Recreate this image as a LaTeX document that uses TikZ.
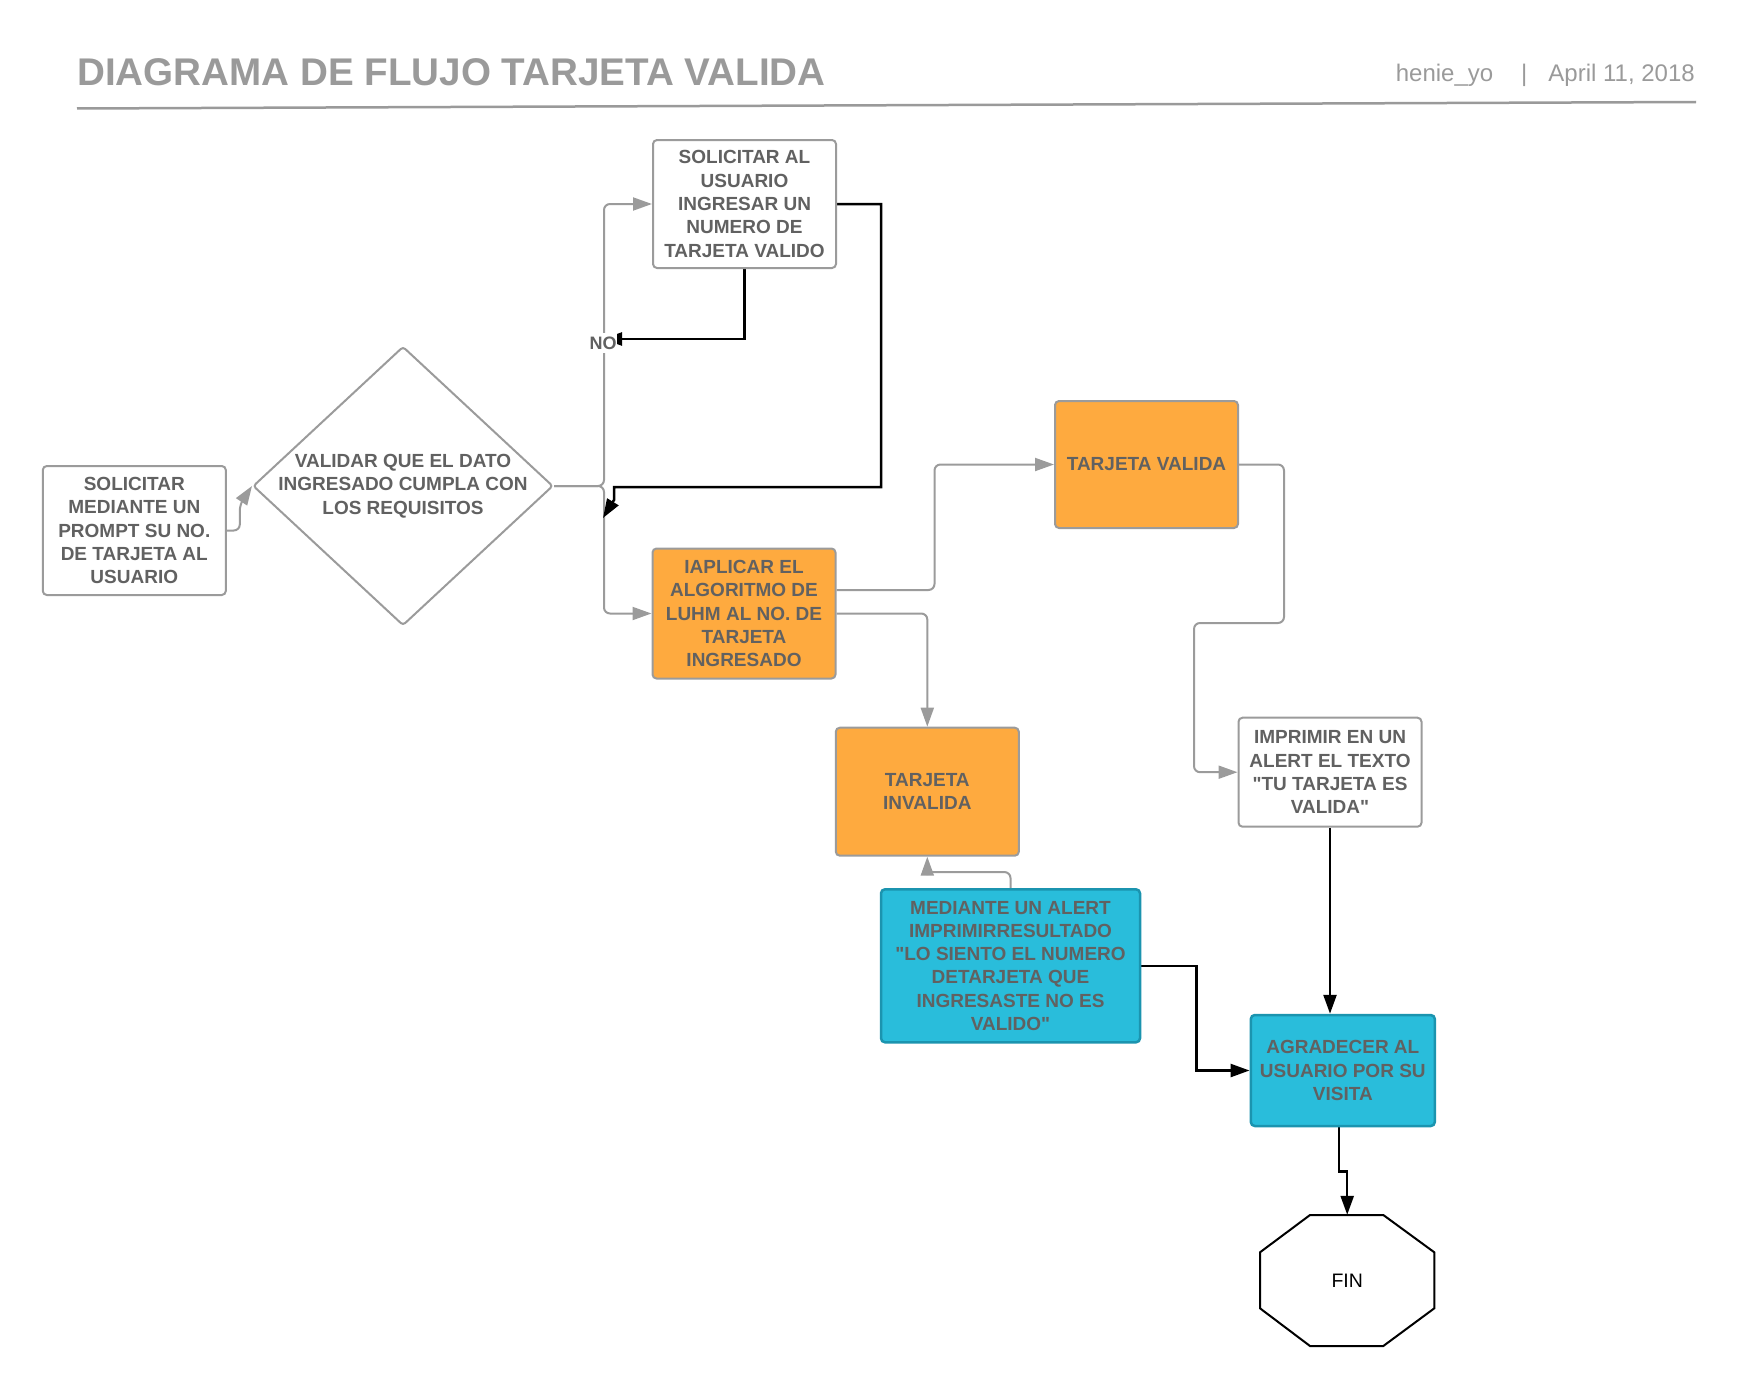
\documentclass[tikz,border=0pt]{standalone}
\usepackage{fontspec}
\setmainfont{Liberation Sans}
\usepackage{tikz}
\usetikzlibrary{arrows.meta, shapes.geometric, backgrounds}
\usepackage{xcolor}
\definecolor{lineagris}{HTML}{9B9B9B}
\definecolor{textogris}{HTML}{616161}
\definecolor{titulogris}{HTML}{9A9A9A}
\definecolor{naranja}{HTML}{FEAA3F}
\definecolor{celeste}{HTML}{29BDDB}
\definecolor{celesteborde}{HTML}{1B94AF}
\newcommand\boxfont{\fontsize{19}{23.3}\selectfont\bfseries}
\newcommand\comillas{\textquotedbl}
\tikzset{%
	caja/.style={
		rectangle,
		rounded corners=4pt,
		draw=lineagris,
		line width=2pt,
		fill=white,
		minimum width=183pt,
		minimum height=128pt,
		inner sep=0pt,
		align=center,
		text=textogris,
		font=\boxfont
	},
	cajanaranja/.style={caja, fill=naranja},
	cajaceleste/.style={caja, fill=celeste, draw=celesteborde, line width=2.5pt},
	decision/.style={
		diamond,
		draw=lineagris,
		line width=2pt,
		fill=white,
		rounded corners=3pt,
		minimum width=300pt,
		minimum height=279pt,
		inner sep=0pt
	},
	textodecision/.style={align=center, text=textogris, font=\boxfont},
	flechagris/.style={
		draw=lineagris,
		line width=2pt,
		rounded corners=6pt,
		-{Triangle[length=19pt,width=13pt]}
	},
	flechanegra/.style={
		draw=black,
		line width=2.5pt,
		-{Triangle[length=19pt,width=13pt]}
	},
}

\begin{document}
\begin{tikzpicture}[x=1pt,y=-1pt]
			\useasboundingbox (0,0) rectangle (1739,1386);
			
			% Header
			\node[anchor=base west, inner sep=0pt, text=titulogris, font=\fontsize{38.6}{40}\selectfont\bfseries] (titulo) at (77,86) {DIAGRAMA DE FLUJO TARJETA VALIDA};
			\node[anchor=base east, inner sep=0pt, text=titulogris, font=\fontsize{24}{26}\selectfont] (autor) at (1695,82) {henie\textunderscore yo\hspace{28pt}|\hspace{21pt}April 11, 2018};
			\draw[titulogris, line width=2.5pt] (77,108.5) -- (1696,102);
			
			% Process boxes
			\node[caja, minimum height=129pt] (prompt) at (134.3,530.5) {SOLICITAR\\MEDIANTE UN\\PROMPT SU NO.\\DE TARJETA AL\\USUARIO};
			\node[decision, label={[textodecision]center:VALIDAR QUE EL DATO\\INGRESADO CUMPLA CON\\LOS REQUISITOS}] (valida) at (403,486) {};
			\node[caja] (solicitar) at (744.5,204) {SOLICITAR AL\\USUARIO\\INGRESAR UN\\NUMERO DE\\TARJETA VALIDO};
			\node[cajanaranja, minimum height=130pt] (luhm) at (744,613.5) {IAPLICAR EL\\ALGORITMO DE\\LUHM AL NO. DE\\TARJETA\\INGRESADO};
			\node[cajanaranja, minimum height=127pt] (tvalida) at (1146.5,464.5) {TARJETA VALIDA};
			\node[cajanaranja] (tinvalida) at (927.3,791.7) {TARJETA\\INVALIDA};
			\node[caja, minimum height=109pt] (imprimir) at (1330,772.2) {IMPRIMIR EN UN\\ALERT EL TEXTO\\\comillas TU TARJETA ES\\VALIDA\comillas};
			\node[cajaceleste, minimum width=259pt, minimum height=153pt] (alerta) at (1010.5,965.8) {MEDIANTE UN ALERT\\IMPRIMIRRESULTADO\\\comillas LO SIENTO EL NUMERO\\DETARJETA QUE\\INGRESASTE NO ES\\VALIDO\comillas};
			\node[cajaceleste, minimum width=184pt, minimum height=111pt] (agradecer) at (1342.8,1070.5) {AGRADECER AL\\USUARIO POR SU\\VISITA};
			
			% End octagon
			\draw[black, line width=2pt, fill=white] (1310,1215) -- (1383.3,1215) -- (1434.3,1252.3) -- (1434.3,1308.3) -- (1383.3,1346) -- (1310,1346) -- (1260,1308.3) -- (1260,1252.3) -- cycle;
			\node[minimum width=174pt, minimum height=131pt, inner sep=0pt, font=\fontsize{19.5}{22}\selectfont] (fin) at (1347.2,1280.5) {FIN};
			
			% NO label on the gray line
			\node[fill=white, inner xsep=0.5pt, inner ysep=4pt, text=textogris, font=\fontsize{18}{20}\selectfont\bfseries] (no) at (603,343) {NO};
			\coordinate (union) at (603,518);
			
			\begin{scope}[on background layer]
				% Gray connectors
				\draw[flechagris] (prompt.east) -- ++(13,0) -- ++(0,-26) -- (valida.west);
				\draw[flechagris] (valida.east) -- ++(50,0) |- (solicitar.west);
				\draw[flechagris] (valida.east) -- ++(50,0) |- (luhm.west);
				\draw[flechagris] ([yshift=23.5pt]luhm.east) -- ++(98,0) |- (tvalida.west);
				\draw[flechagris] (luhm.east) -| (tinvalida.north);
				\draw[flechagris] (tvalida.east) -- ++(45,0) |- (1194,623) |- (imprimir.west);
				\draw[flechagris] (alerta.north) -- ++(0,-16) -| (tinvalida.south);
				
				% Black connectors
				\draw[flechanegra] (solicitar.south) |- ([yshift=4pt]no.center);
				\draw[flechanegra] (solicitar.east) -| (881,487) -| (614,500) -- (union);
				\draw[flechanegra] (imprimir.south) -- (imprimir.south |- agradecer.north);
				\draw[flechanegra] (alerta.east) -- ++(55,0) |- (agradecer.west);
				\draw[flechanegra] ([xshift=-4pt]agradecer.south) -- ++(0,44) -| (fin.north);
			\end{scope}
			
		\end{tikzpicture}
\end{document}
